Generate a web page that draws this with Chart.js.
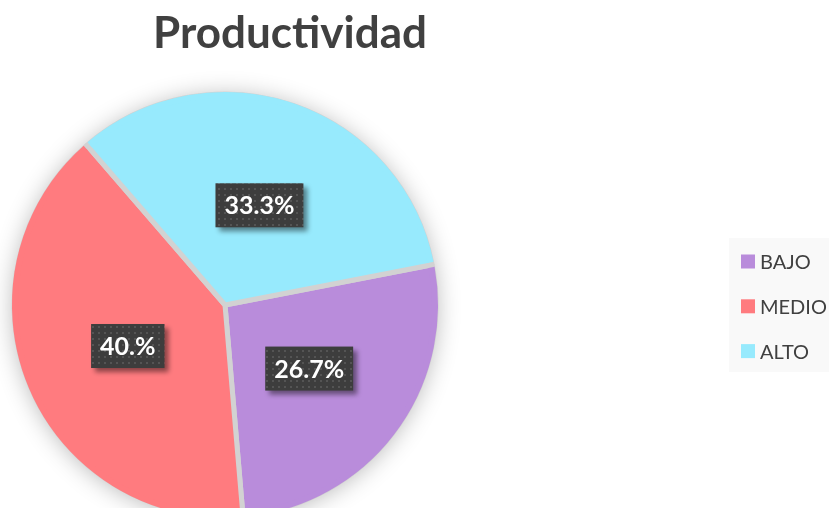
<!DOCTYPE html>
<html>
<head>
<meta charset="utf-8">
<script src="https://cdn.jsdelivr.net/npm/chart.js@4"></script>
<style>
  html, body { margin: 0; padding: 0; background: #fff; overflow: hidden; }
</style>
</head>
<body>
<canvas id="pie" width="829" height="560"></canvas>
<script>
// data
const categories = ['BAJO', 'MEDIO', 'ALTO'];
const values = [26.7, 40.0, 33.3];
const pctLabels = ['26.7%', '40.%', '33.3%'];
const chartTitle = 'Productividad';

const sliceColors = ['#b98cdb', '#ff7b7f', '#97eafd'];
const textDark = '#404040';

// small dotted texture for the label boxes
function dotPattern(ctx) {
    const c = document.createElement('canvas');
    c.width = 6; c.height = 6;
    const p = c.getContext('2d');
    p.fillStyle = '#3d3d3d';
    p.fillRect(0, 0, 6, 6);
    p.fillStyle = '#545454';
    p.fillRect(2, 2, 2, 2);
    return ctx.createPattern(c, 'repeat');
}

const pieShadow = {
    id: 'pieShadow',
    beforeDatasetsDraw(chart) {
        const arc = chart.getDatasetMeta(0).data[0];
        const ctx = chart.ctx;
        ctx.save();
        ctx.shadowColor = 'rgba(0,0,0,0.3)';
        ctx.shadowBlur = 24;
        ctx.shadowOffsetX = 0;
        ctx.shadowOffsetY = 2;
        ctx.fillStyle = '#d2d2d2';
        ctx.beginPath();
        ctx.arc(arc.x, arc.y, arc.outerRadius, 0, Math.PI * 2);
        ctx.fill();
        ctx.restore();
    },
    afterDatasetsDraw(chart) {
        // paint the outer rim in the slice colour so only the seams stay grey
        const ctx = chart.ctx;
        ctx.save();
        ctx.lineWidth = 6;
        chart.getDatasetMeta(0).data.forEach((arc, i) => {
            ctx.strokeStyle = sliceColors[i];
            ctx.beginPath();
            ctx.arc(arc.x, arc.y, arc.outerRadius - 1, arc.startAngle + 0.012, arc.endAngle - 0.012);
            ctx.stroke();
        });
        ctx.restore();
    }
};

const extras = {
    id: 'extras',
    afterDraw(chart) {
        const ctx = chart.ctx;
        const meta = chart.getDatasetMeta(0);
        const pattern = dotPattern(ctx);

        // data labels
        ctx.save();
        ctx.font = 'bold 25px Lato';
        ctx.textAlign = 'center';
        ctx.textBaseline = 'middle';
        meta.data.forEach((arc, i) => {
            const pos = arc.tooltipPosition();
            const txt = pctLabels[i];
            const w = ctx.measureText(txt).width + 18;
            const h = 44;
            ctx.save();
            ctx.shadowColor = 'rgba(0,0,0,0.45)';
            ctx.shadowBlur = 5;
            ctx.shadowOffsetX = 4;
            ctx.shadowOffsetY = 4;
            ctx.fillStyle = pattern;
            ctx.fillRect(pos.x - w / 2, pos.y - h / 2, w, h);
            ctx.restore();
            ctx.fillStyle = '#ffffff';
            ctx.fillText(txt, pos.x, pos.y + 1);
        });
        ctx.restore();

        // title
        ctx.save();
        ctx.font = 'bold 44px Lato';
        ctx.fillStyle = textDark;
        ctx.textAlign = 'center';
        ctx.textBaseline = 'alphabetic';
        ctx.fillText(chartTitle, 290, 48);
        ctx.restore();

        // legend
        ctx.save();
        ctx.fillStyle = '#f9f9f9';
        ctx.fillRect(729, 238, 100, 134);
        ctx.font = '20px Lato';
        ctx.textBaseline = 'middle';
        ctx.textAlign = 'left';
        categories.forEach((name, i) => {
            const cy = 261.5 + i * 44.8;
            ctx.fillStyle = sliceColors[i];
            ctx.fillRect(741, cy - 7, 14, 14);
            ctx.fillStyle = textDark;
            ctx.fillText(name, 760, cy + 1);
        });
        ctx.restore();
    }
};

const ctx = document.getElementById('pie').getContext('2d');
const myPie = new Chart(ctx, {
    type: 'pie',
    data: {
        labels: categories,
        datasets: [{
            data: values,
            backgroundColor: sliceColors,
            borderColor: '#d2d2d2',
            borderWidth: 5
        }]
    },
    options: {
        responsive: false,
        animation: false,
        events: [],
        rotation: 79,
        radius: 211,
        layout: { padding: { left: 0, right: 379, top: 80, bottom: 30 } },
        plugins: {
            legend: { display: false },
            title: { display: false },
            tooltip: { enabled: false }
        }
    },
    plugins: [pieShadow, extras]
});
</script>
</body>
</html>
